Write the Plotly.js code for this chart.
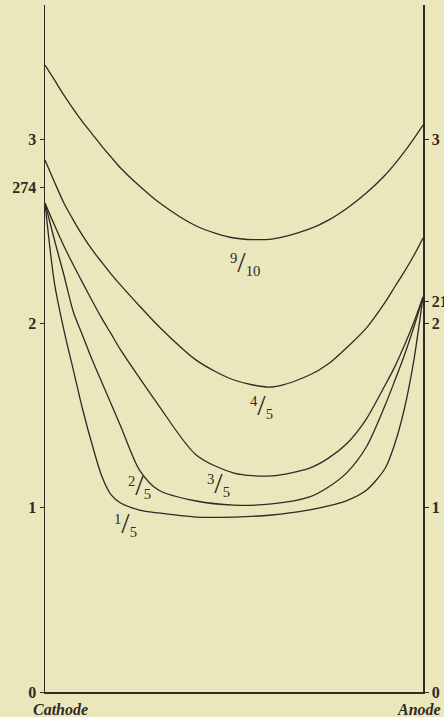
<!DOCTYPE html>
<html>
<head>
<meta charset="utf-8">
<script src="https://cdn.plot.ly/plotly-3.0.1.min.js"></script>
<style>
  html, body { margin: 0; padding: 0; background: #ebe7bd; }
  #plot { width: 444px; height: 717px; }
</style>
</head>
<body>
<div id="plot"></div>
<script>
// distance from cathode (0) to anode (1)
var dist = [0, 0.025, 0.05, 0.075, 0.1, 0.125, 0.15, 0.175, 0.2, 0.25, 0.3,
            0.4, 0.5, 0.6, 0.7, 0.75, 0.8, 0.85, 0.9, 0.925, 0.95, 0.975, 1];

var c910 = [3.404, 3.323, 3.241, 3.165, 3.094, 3.029, 2.964, 2.904, 2.845, 2.747, 2.660,
            2.530, 2.465, 2.459, 2.514, 2.562, 2.628, 2.709, 2.807, 2.866, 2.931, 3.002, 3.078];
var c45  = [2.888, 2.769, 2.655, 2.562, 2.476, 2.400, 2.334, 2.269, 2.209, 2.096, 1.987,
            1.802, 1.694, 1.656, 1.721, 1.782, 1.873, 1.976, 2.117, 2.199, 2.280, 2.367, 2.465];
var c35  = [2.655, 2.535, 2.421, 2.318, 2.220, 2.123, 2.030, 1.944, 1.857, 1.705, 1.558,
            1.287, 1.189, 1.173, 1.216, 1.270, 1.352, 1.482, 1.667, 1.764, 1.878, 2.003, 2.145];
var c25  = [2.655, 2.454, 2.264, 2.063, 1.933, 1.802, 1.683, 1.564, 1.444, 1.205, 1.097,
            1.037, 1.015, 1.021, 1.059, 1.113, 1.194, 1.330, 1.558, 1.688, 1.824, 1.976, 2.145];
var c15  = [2.655, 2.220, 1.965, 1.748, 1.531, 1.341, 1.173, 1.070, 1.026, 0.988, 0.972,
            0.950, 0.950, 0.961, 0.989, 1.010, 1.040, 1.095, 1.215, 1.345, 1.531, 1.791, 2.145];

var leftTicks = [0, 1, 2, 2.74, 3];
var leftText = ['0', '1', '2', '274', '3'];
var rightTicks = [0, 1, 2, 2.12, 3];
var rightText = ['0', '1', '2', '212', '3'];

var ink = '#2e2a25';
var paper = '#ebe7bd';
var serif = 'Liberation Serif, DejaVu Serif, serif';

function curve(y, name, axis) {
  return {
    x: dist, y: y, name: name, yaxis: axis || 'y',
    type: 'scatter', mode: 'lines',
    line: { color: ink, width: 1.3, shape: 'spline', smoothing: 0.8 },
    hoverinfo: 'skip'
  };
}

var traces = [
  curve(c910, '9/10', 'y2'),
  curve(c45, '4/5'),
  curve(c35, '3/5'),
  curve(c25, '2/5'),
  curve(c15, '1/5')
];

function frac(n, d, x, y) {
  return {
    x: x, y: y, xref: 'x', yref: 'y', showarrow: false,
    text: '<sup>' + n + '</sup><span style="font-size:30px">/</span><sub>' + d + '</sub>',
    font: { family: serif, size: 21, color: ink }
  };
}

var yRange = [0, 3.73];
var tickFont = { family: serif, size: 16, color: ink, weight: 'bold' };

var layout = {
  width: 444, height: 717,
  margin: { l: 45, r: 21, t: 5, b: 25 },
  paper_bgcolor: paper, plot_bgcolor: paper,
  showlegend: false,
  xaxis: {
    range: [0, 1], showgrid: false, zeroline: false,
    showline: true, linecolor: ink, linewidth: 1.5,
    showticklabels: false, ticks: ''
  },
  yaxis: {
    range: yRange, showgrid: false, zeroline: false,
    showline: true, linecolor: ink, linewidth: 1.5,
    tickmode: 'array', tickvals: leftTicks, ticktext: leftText,
    ticks: 'outside', ticklen: 4, tickcolor: ink,
    tickfont: tickFont
  },
  yaxis2: {
    range: yRange, overlaying: 'y', side: 'right',
    showgrid: false, zeroline: false,
    showline: true, linecolor: ink, linewidth: 1.5,
    tickmode: 'array', tickvals: rightTicks, ticktext: rightText,
    ticks: 'outside', ticklen: 4, tickcolor: ink,
    tickfont: tickFont
  },
  annotations: [
    frac('9', '10', 0.529, 2.334),
    frac('4', '5', 0.574, 1.558),
    frac('3', '5', 0.458, 1.135),
    frac('2', '5', 0.251, 1.124),
    frac('1', '5', 0.212, 0.917),
    {
      x: 0.042, y: -0.026, xref: 'x', yref: 'paper', showarrow: false,
      text: '<i>Cathode</i>', yanchor: 'middle',
      font: { family: serif, size: 16, color: ink, weight: 'bold' }
    },
    {
      x: 0.99, y: -0.026, xref: 'x', yref: 'paper', showarrow: false,
      text: '<i>Anode</i>', yanchor: 'middle',
      font: { family: serif, size: 16, color: ink, weight: 'bold' }
    }
  ]
};

Plotly.newPlot('plot', traces, layout, { displayModeBar: false, staticPlot: true });
</script>
</body>
</html>
